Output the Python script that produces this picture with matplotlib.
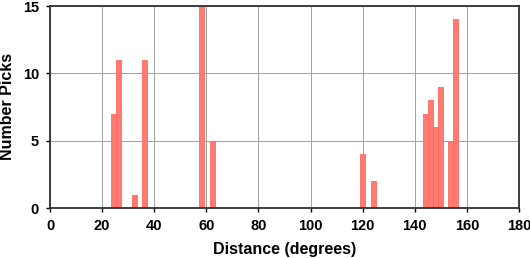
import numpy as np
import matplotlib
matplotlib.use("Agg")
import matplotlib.pyplot as plt

# histogram bins (centre, degrees) and counts
bin_centres = [24.4, 26.3, 32.4, 36.2, 58.2, 62.2, 120.0, 124.0,
               144.0, 146.0, 148.0, 149.8, 153.7, 155.6]
counts = [7, 11, 1, 11, 15, 5, 4, 2, 7, 8, 6, 9, 5, 14]
x_ticks = list(range(0, 181, 20))
y_ticks = [0, 5, 10, 15]

plt.rcParams["font.family"] = ["Liberation Sans", "DejaVu Sans"]
plt.rcParams["font.weight"] = "bold"

W, H = 530, 258
fig = plt.figure(figsize=(W / 100, H / 100), dpi=100)
ax = fig.add_axes([50 / W, 50 / H, 469 / W, 202 / H])

ax.bar(bin_centres, counts, width=1.95, color="#ff7b70",
       edgecolor="#ff6a60", linewidth=0.6, zorder=2)

ax.set_xlim(0, 180)
ax.set_ylim(0, 15)
ax.set_xticks(x_ticks)
ax.set_yticks(y_ticks)
ax.grid(True, color="#a0a0a0", linewidth=0.7, zorder=0)
ax.set_axisbelow(True)
ax.tick_params(direction="out", length=3, width=1, labelsize=10.5, pad=5)
for s in ax.spines.values():
    s.set_linewidth(1.3)
    s.set_color("#303030")

# axis titles placed in figure pixels so they stay inside the canvas
fig.text(284.5 / W, 1 - 249.5 / H, "Distance (degrees)", fontsize=11.5,
         fontweight="bold", ha="center", va="center")
fig.text(0.5 / W, 1 - 106 / H, "Number Picks", fontsize=11.5,
         fontweight="bold", rotation=90, ha="left", va="center")

fig.savefig("out.png", dpi=100)
